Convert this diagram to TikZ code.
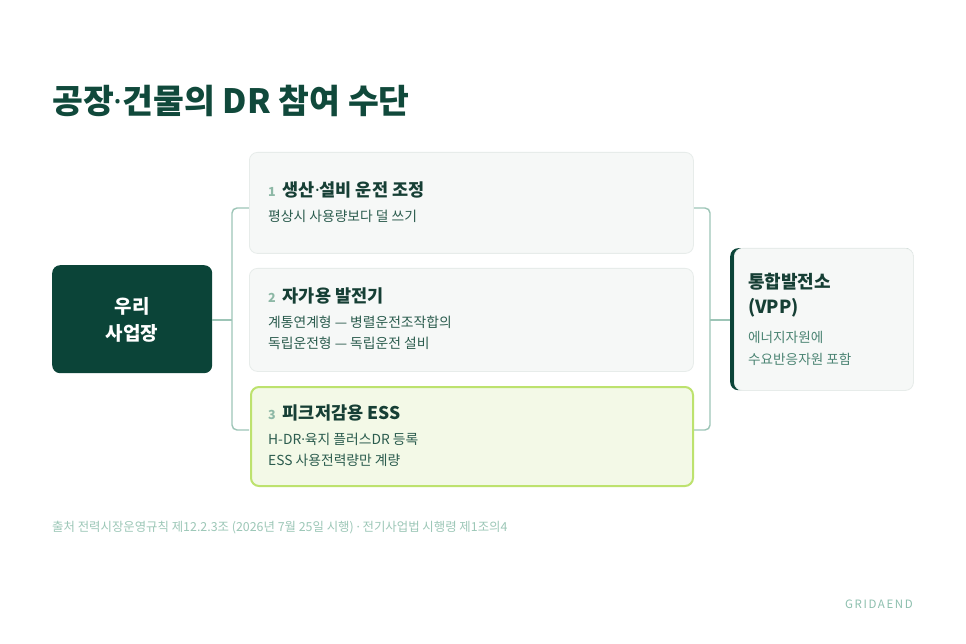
\documentclass[tikz,border=0pt]{standalone}
\usepackage{fontspec}
\setmainfont{Noto Sans CJK KR}
\newfontfamily\dotf{Noto Sans}
\newcommand{\md}{{\dotf ·}}
\definecolor{dkgreen}{HTML}{0B4438}
\definecolor{titlec}{HTML}{10493B}
\definecolor{cardtxt}{HTML}{163F35}
\definecolor{subtxt}{HTML}{2B5C4E}
\definecolor{vppsub}{HTML}{4B8473}
\definecolor{numc}{HTML}{8DB8A6}
\definecolor{cardfill}{HTML}{F6F8F7}
\definecolor{cardedge}{HTML}{E7ECEA}
\definecolor{essfill}{HTML}{F3F9E7}
\definecolor{essedge}{HTML}{BDE26E}
\definecolor{connc}{HTML}{9DC5B7}
\definecolor{footc}{HTML}{9CC7B7}
\definecolor{brandc}{HTML}{8DBFAE}
\tikzset{
  cardbox/.style={draw=cardedge, fill=cardfill, line width=0.8pt, rounded corners=8pt, anchor=north west, minimum width=444pt, inner sep=0pt},
  essbox/.style={draw=essedge, fill=essfill, line width=2pt, rounded corners=8pt, anchor=north west, minimum width=442pt, minimum height=99pt, inner sep=0pt},
  conn/.style={draw=connc, line width=1.4pt, rounded corners=5pt},
  txt/.style={anchor=base west, inner sep=0pt},
  cardtitle/.style={txt, text=cardtxt, font=\fontsize{17.5}{21}\selectfont\bfseries},
  cardsub/.style={txt, text=subtxt, font=\fontsize{13.8}{16}\selectfont},
}
\newcommand{\numlab}[1]{{\color{numc}\fontsize{12.5}{14}\selectfont\bfseries #1}\hspace{7pt}}
\begin{document}
\begin{tikzpicture}[x=1pt,y=-1pt]
\useasboundingbox[fill=white] (0,0) rectangle (966,644);
% title
\node[txt, text=titlec, font=\fontsize{33.5}{38}\selectfont\bfseries] (title) at (52,114) {공장\md 건물의 DR 참여 수단};
% junction coordinates
\coordinate (jl) at (232,320);
\coordinate (jr) at (710,320);
\coordinate (l1) at (249,208);
\coordinate (l3) at (249,430);
\coordinate (r1) at (693,208);
\coordinate (r3) at (693,430);
% left box
\node[fill=dkgreen, rounded corners=8pt, minimum width=160pt, minimum height=108pt, anchor=north west, inner sep=0pt] (site) at (52,265) {};
\node[text=white, font=\fontsize{19}{27}\selectfont\bfseries, align=center] (sitetxt) at (132,320) {우리\\사업장};
% connectors
\draw[conn] (site.east |- jl) -- (jl);
\draw[conn] (l1) -| (jl) |- (l3);
\draw[conn] (r1) -| (jr) |- (r3);
% VPP box
\node[fill=dkgreen, rounded corners=8pt, minimum width=183pt, minimum height=142pt, anchor=north west, inner sep=0pt] (vppbg) at (730,248) {};
\node[fill=cardfill, draw=cardedge, line width=0.8pt, rounded corners=8pt, minimum width=179pt, minimum height=142pt, anchor=north west, inner sep=0pt] (vpp) at (734,248) {};
\draw[conn, rounded corners=0pt] (jr) -- (jr -| vppbg.west);
\node[txt, text=cardtxt, font=\fontsize{18}{22}\selectfont\bfseries] (vppt1) at (748,288) {통합발전소};
\node[txt, text=cardtxt, font=\fontsize{18}{22}\selectfont\bfseries] (vppt2) at (748,313) {(VPP)};
\node[txt, text=vppsub, font=\fontsize{13.6}{16}\selectfont] (vpps1) at (748,342) {에너지자원에};
\node[txt, text=vppsub, font=\fontsize{13.6}{16}\selectfont] (vpps2) at (748,364) {수요반응자원 포함};
% cards
\node[cardbox, minimum height=101pt] (c1) at (249,152) {};
\node[cardtitle] (c1t) at (268,197) {\numlab{1}생산\md 설비 운전 조정};
\node[cardsub] (c1s) at (268,222) {평상시 사용량보다 덜 쓰기};
\node[cardbox, minimum height=103pt] (c2) at (249,268) {};
\node[cardtitle] (c2t) at (268,302) {\numlab{2}자가용 발전기};
\node[cardsub] (c2s1) at (268,327) {계통연계형 — 병렬운전조작합의};
\node[cardsub] (c2s2) at (268,348) {독립운전형 — 독립운전 설비};
\node[essbox] (c3) at (250,386) {};
\node[cardtitle] (c3t) at (268,419) {\numlab{3}피크저감용 ESS};
\node[cardsub] (c3s1) at (268,444) {H-DR\md 육지 플러스DR 등록};
\node[cardsub] (c3s2) at (268,465) {ESS 사용전력량만 계량};
% footer
\node[txt, text=footc, font=\fontsize{12.4}{15}\selectfont] (foot) at (52,531) {출처 전력시장운영규칙 제12.2.3조 (2026년 7월 25일 시행) \md{} 전기사업법 시행령 제1조의4};
\node[anchor=base east, inner sep=0pt, text=brandc, font=\fontsize{11.5}{13}\selectfont\addfontfeatures{LetterSpace=14}] (brand) at (913,608) {GRIDAEND};
\end{tikzpicture}
\end{document}
